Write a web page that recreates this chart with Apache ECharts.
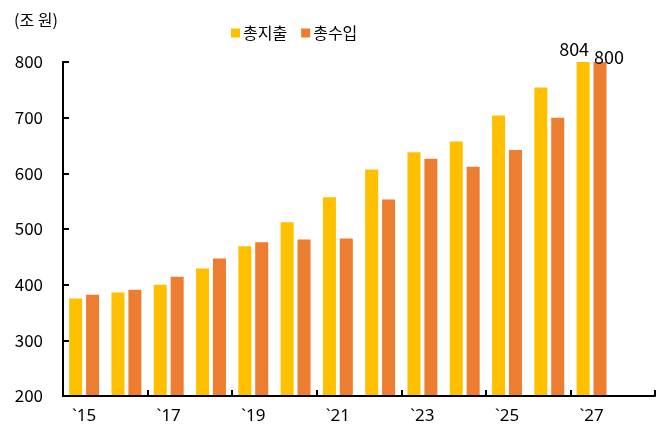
<!DOCTYPE html>
<html>
<head>
<meta charset="utf-8">
<script src="https://cdn.jsdelivr.net/npm/echarts@6/dist/echarts.min.js"></script>
<style>
  html, body { margin: 0; padding: 0; background: #fff; }
  #chart { width: 665px; height: 435px; }
</style>
</head>
<body>
<div id="chart"></div>
<script>
// Years '15 ~ '27, plus an empty slot at the end of the axis
const years = ['`15', '`16', '`17', '`18', '`19', '`20', '`21', '`22', '`23', '`24', '`25', '`26', '`27', '`28'];
const spending = [375, 386, 400, 429, 469, 512, 557, 607, 638, 657, 704, 754, 804, null]; // 총지출
const revenue  = [382, 391, 414, 447, 476, 481, 483, 553, 626, 612, 642, 700, 800, null]; // 총수입
const yTicks = [200, 300, 400, 500, 600, 700, 800];

const font = "'Noto Sans CJK KR', 'Noto Sans', sans-serif";
const lastIdx = 12;

const chart = echarts.init(document.getElementById('chart'));

// only the last pair of bars carries a value label
function withLastLabel(arr, offset) {
  return arr.map((v, i) => i !== lastIdx ? v : {
    value: v,
    label: { show: true, position: 'top', distance: 4, offset, color: '#000', fontSize: 18, fontFamily: font }
  });
}

const option = {
  backgroundColor: '#fff',
  animation: false,
  grid: { left: 63, right: 10, top: 62, bottom: 39 },
  graphic: [{
    type: 'text', left: 14, top: 12,
    style: { text: '(조 원)', fontSize: 16, fontFamily: font, fill: '#000' }
  }],
  legend: {
    top: 20, left: 226,
    itemWidth: 9, itemHeight: 9, itemGap: 14,
    icon: 'rect',
    textStyle: { fontSize: 16, fontFamily: font, color: '#000', padding: [0, 0, 0, -2] },
    data: ['총지출', '총수입']
  },
  xAxis: {
    type: 'category',
    data: years,
    boundaryGap: true,
    z: 10,
    axisLine: { lineStyle: { color: '#000', width: 2 } },
    axisTick: { show: true, inside: true, length: 6, interval: 1, lineStyle: { color: '#000', width: 2 } },
    axisLabel: { interval: 1, color: '#000', fontSize: 17, fontFamily: "'Noto Sans', sans-serif", margin: 12 }
  },
  yAxis: {
    type: 'value',
    min: yTicks[0], max: yTicks[yTicks.length - 1], interval: 100,
    axisLine: { show: true, lineStyle: { color: '#000', width: 2 } },
    axisTick: { show: true, inside: true, length: 6, lineStyle: { color: '#000', width: 2 } },
    splitLine: { show: false },
    axisLabel: { color: '#000', fontSize: 17, fontFamily: font, margin: 20 }
  },
  series: [
    {
      name: '총지출', type: 'bar',
      data: withLastLabel(spending, [-9, 0]),
      barWidth: 13, barGap: '30%',
      itemStyle: { color: '#FFC000' }
    },
    {
      name: '총수입', type: 'bar',
      data: withLastLabel(revenue, [9, 8]),
      barWidth: 13, barGap: '30%',
      itemStyle: { color: '#ED7D31' }
    }
  ]
};

chart.setOption(option);
</script>
</body>
</html>
